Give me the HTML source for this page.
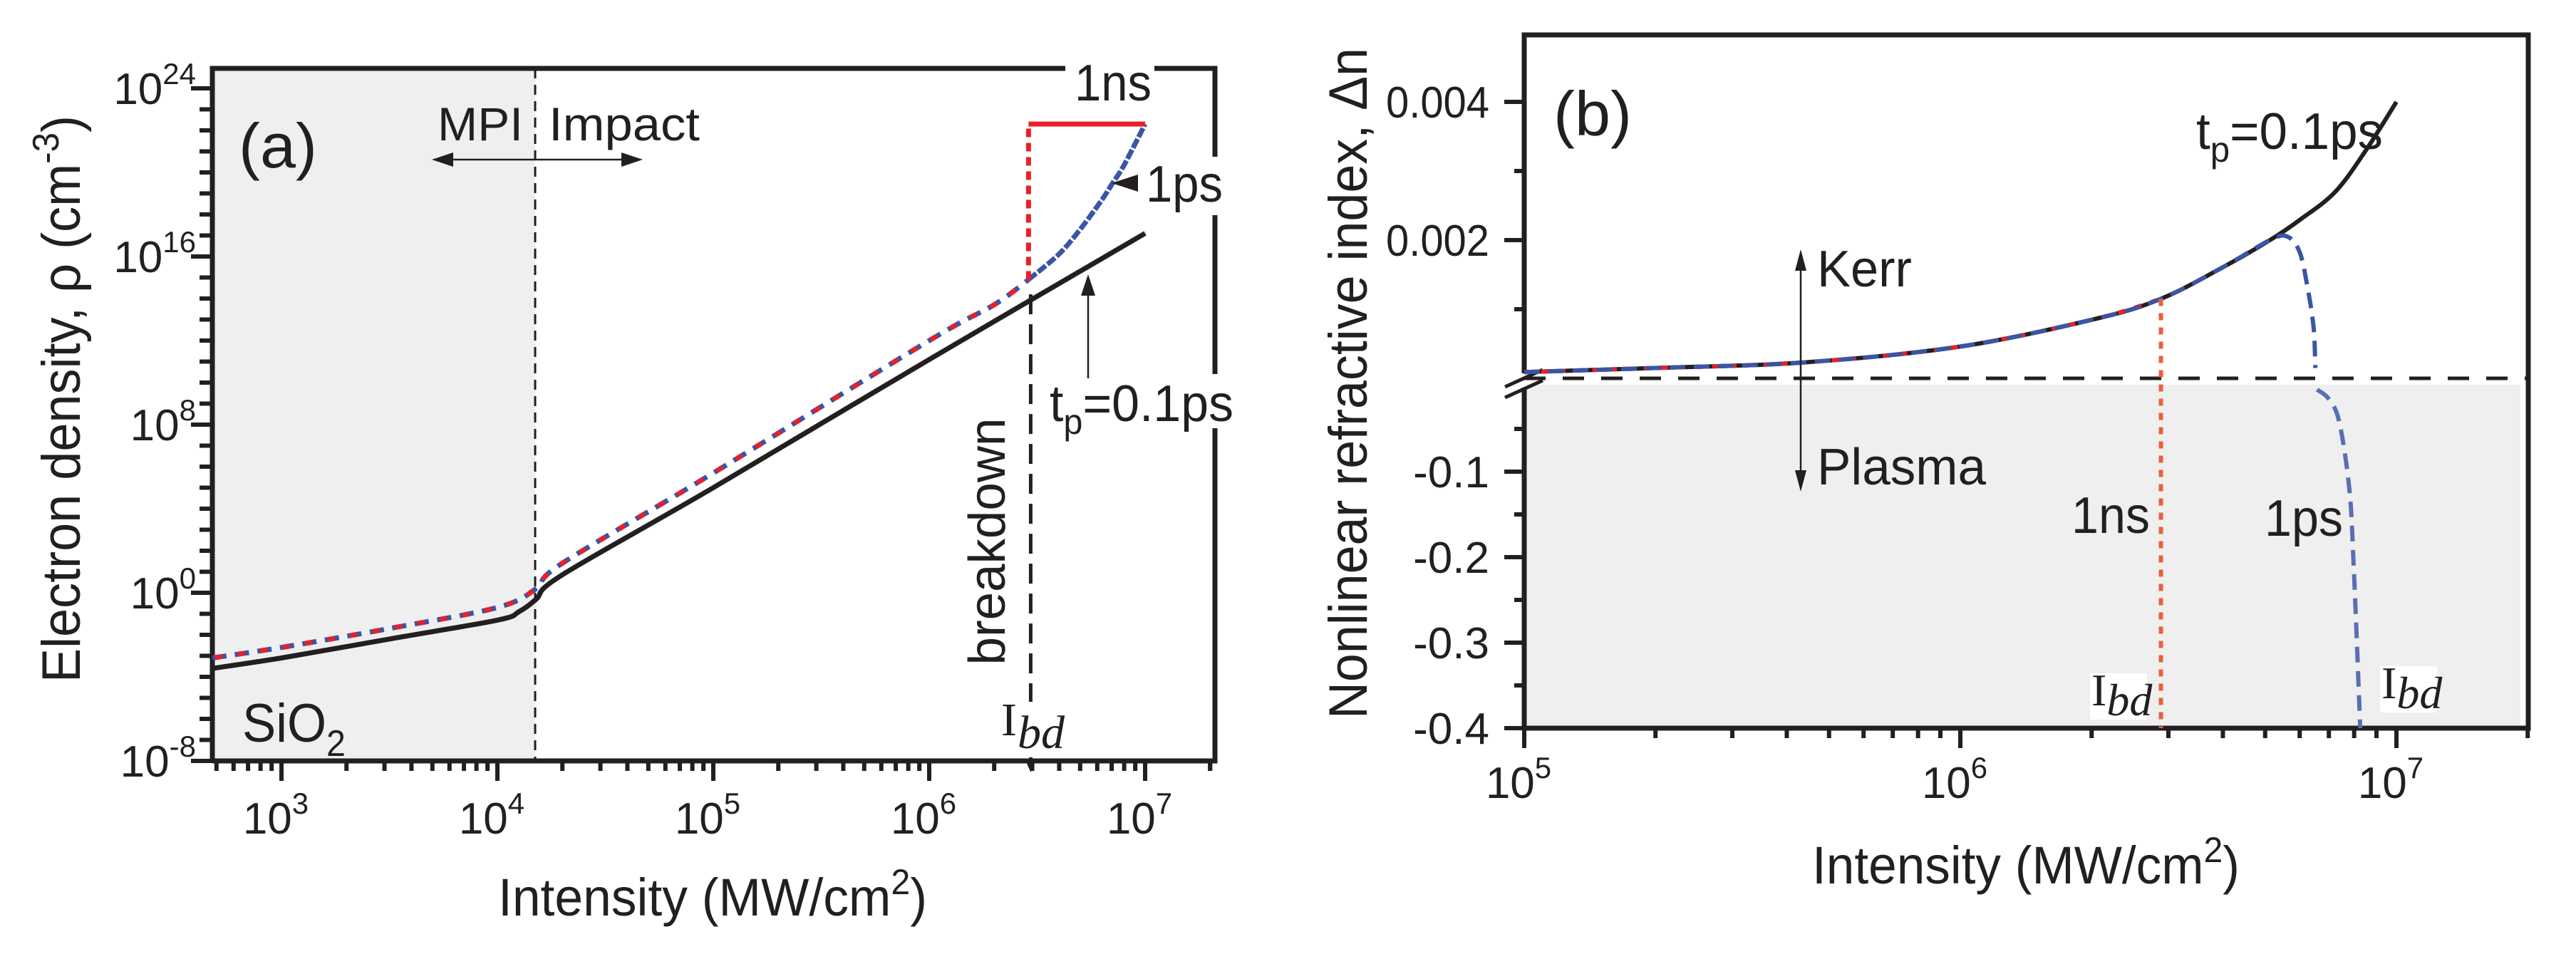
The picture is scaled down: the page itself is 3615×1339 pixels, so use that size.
<!DOCTYPE html>
<html><head><meta charset="utf-8"><style>
html,body{margin:0;padding:0;background:#fff;}
svg{display:block;}
text{font-family:"Liberation Sans Narrow","Liberation Sans",sans-serif;fill:#231f20;}
.serif{font-family:"Liberation Serif",serif;}
</style></head><body>
<svg id="fig" width="3615" height="1339" viewBox="0 0 3615 1339" xmlns="http://www.w3.org/2000/svg">
<g id="pa"></g>
<g id="pb"></g>
</svg>
<script>
// ---------- Panel (a) data ----------
const aBlackX = [2.68,3,3.5,4,4.1,4.18,4.3,5,6,7];
const aBlackY = [-3.6,-3.1,-2.2,-1.3,-0.9,-0.3,0.85,5.0,11.1,17.1];
const aDashX = [2.68,3,3.5,4,4.18,4.3,5,6,6.3,6.46];
const aDashY = [-3.1,-2.6,-1.7,-0.7,0.2,1.4,5.7,12.0,13.7,14.9];
const aRedTopX = [6.46,7];
const aRedTopY = [22.3,22.3];
const aBlueX = [6.46,6.6,6.7,6.8,6.85,6.9,7.0];
const aBlueY = [14.9,16.1,17.3,18.7,19.5,20.3,22.3];
const aYTicks = [24,16,8,0,-8];
const aXTicks = [3,4,5,6,7];
const aIbd = 6.47;
const aMPI = 4.175;
// ---------- Panel (b) data ----------
const bBlackX = [5,5.3,5.64,6,6.31,6.46,6.6,6.71,6.78,6.86,6.93,7];
const bBlackY = [0.00009,0.00015,0.00023,0.00046,0.00086,0.00115,0.0016,0.0020,0.0023,0.0027,0.0033,0.0040];
const bRedX = [5,5.3,5.64,6,6.31,6.46];
const bRedY = [0.00009,0.00015,0.00023,0.00046,0.00086,0.00115];
const bBlueUpX = [5,5.3,5.64,6,6.31,6.46,6.6,6.71,6.75,6.778,6.796,6.81,6.814];
const bBlueUpY = [0.00009,0.00015,0.00023,0.00046,0.00086,0.00115,0.0016,0.0020,0.00205,0.00183,0.00132,0.00074,0.00015];
const bBlueLowX = [6.818,6.845,6.869,6.892,6.902,6.917];
const bBlueLowY = [-0.004,-0.015,-0.042,-0.12,-0.21,-0.4];
const bIbdRed = 6.46;
const bUpTicks = [0.004,0.002];
const bUpMinor = [0.003,0.001];
const bLowTicks = [-0.1,-0.2,-0.3,-0.4];
const bLowMinor = [-0.05,-0.15,-0.25,-0.35];
const bXTicks = [5,6,7];

const NS="http://www.w3.org/2000/svg";
function mk(tag,attrs,parent){const e=document.createElementNS(NS,tag);for(const k in attrs)e.setAttribute(k,attrs[k]);parent.appendChild(e);return e;}
function txt(parent,x,y,size,content,extra){const t=mk('text',Object.assign({x:x,y:y,'font-size':size},extra||{}),parent);t.innerHTML=content;return t;}
function smooth(xs,ys,fx,fy){const p=xs.map((x,i)=>[fx(x),fy(ys[i])]);let d='M'+p[0][0].toFixed(1)+' '+p[0][1].toFixed(1);
 for(let i=0;i<p.length-1;i++){const p0=p[i-1]||p[i],p1=p[i],p2=p[i+1],p3=p[i+2]||p2;
  const c1=[p1[0]+(p2[0]-p0[0])/6,p1[1]+(p2[1]-p0[1])/6],c2=[p2[0]-(p3[0]-p1[0])/6,p2[1]-(p3[1]-p1[1])/6];
  d+=` C${c1[0].toFixed(1)} ${c1[1].toFixed(1)} ${c2[0].toFixed(1)} ${c2[1].toFixed(1)} ${p2[0].toFixed(1)} ${p2[1].toFixed(1)}`;}
 return d;}
const LA={lengthAdjust:'spacingAndGlyphs'};

// ===== Panel a =====
const A=document.getElementById('pa');
const aL=298,aR=1705,aT=96,aB=1068;
const ax=v=>395+(v-3)*303;
const ay=v=>124+(24-v)*29.5;
let r=mk('rect',{x:aL,y:aT,width:ax(aMPI)-aL,height:aB-aT,fill:'#efefef'},A);


let f=mk('path',{d:`M${aL} ${aB} L${aL} ${aT} L${aR} ${aT} L${aR} ${aB} L${aL} ${aB}`,stroke:'#231f20','stroke-width':7,fill:'none'},A);


for(let d=-8;d<=24;d++){const l=(d%8===0)?30:18;
 const t=mk('line',{x1:aL-l,x2:aL,y1:ay(d),y2:ay(d),stroke:'#231f20','stroke-width':6},A);
 
 }
aYTicks.forEach(v=>{const t=txt(A,275,ay(v)+22,62,`10<tspan dy="-28" font-size="42">${v}</tspan>`,{'text-anchor':'end'});
 
 });
for(let d=2;d<=7;d++){for(let m=1;m<=9;m++){const v=d+Math.log10(m);if(v<2.68||v>7.32)continue;const l=(m===1)?28:14;
 const t=mk('line',{x1:ax(v),x2:ax(v),y1:aB,y2:aB+l,stroke:'#231f20','stroke-width':6},A);
 
 }}
let t2=mk('line',{x1:ax(7.301),x2:ax(7.301),y1:aB,y2:aB+14,stroke:'#231f20','stroke-width':6},A);


aXTicks.forEach(v=>{const t=txt(A,ax(v)-8,1170,62,`10<tspan dy="-28" font-size="42">${v}</tspan>`,{'text-anchor':'middle'});
 
 });
let mv=mk('line',{x1:ax(aMPI),x2:ax(aMPI),y1:aT,y2:aB,stroke:'#231f20','stroke-width':3,'stroke-dasharray':'14 9'},A);


let c=mk('path',{d:smooth(aBlackX,aBlackY,ax,ay),stroke:'#231f20','stroke-width':7,fill:'none'},A);


c=mk('path',{d:smooth(aDashX,aDashY,ax,ay),stroke:'#3a55a4','stroke-width':7,fill:'none','stroke-dasharray':'20 12'},A);


c=mk('path',{d:smooth(aDashX,aDashY,ax,ay),stroke:'#e8202a','stroke-width':7,fill:'none','stroke-dasharray':'10 22','stroke-dashoffset':'-4'},A);


c=mk('path',{d:smooth(aBlueX,aBlueY,ax,ay),stroke:'#3a55a4','stroke-width':7,fill:'none','stroke-dasharray':'14 3'},A);


c=mk('path',{d:`M${ax(aDashX[aDashX.length-1])} ${ay(aDashY[aDashY.length-1])} L${ax(aRedTopX[0])} ${ay(aRedTopY[0])}`,stroke:'#e8202a','stroke-width':7,fill:'none','stroke-dasharray':'12 8'},A);


c=mk('path',{d:smooth(aRedTopX,aRedTopY,ax,ay),stroke:'#e8202a','stroke-width':7,fill:'none'},A);


c=mk('line',{x1:ax(aIbd),x2:ax(aIbd),y1:ay(14.2),y2:aB,stroke:'#231f20','stroke-width':5,'stroke-dasharray':'28 14'},A);


c=mk('path',{d:`M${ax(aIbd)-7} ${aB} L${ax(aIbd)+7} ${aB} L${ax(aIbd)} ${aB+16} Z`,fill:'#231f20'},A);


c=mk('rect',{x:1400,y:985,width:90,height:78,fill:'#fff'},A);


c=mk('rect',{x:1495,y:80,width:125,height:30,fill:'#fff'},A);


c=mk('rect',{x:1690,y:220,width:30,height:82,fill:'#fff'},A);


c=mk('rect',{x:1690,y:525,width:30,height:76,fill:'#fff'},A);


let tt=txt(A,335,235,88,'(a)',Object.assign({textLength:110},LA));


tt=txt(A,614,197,66,'MPI',Object.assign({textLength:120},LA));


tt=txt(A,770,197,66,'Impact',Object.assign({textLength:212},LA));


c=mk('line',{x1:630,x2:880,y1:224,y2:224,stroke:'#231f20','stroke-width':2.5},A);


c=mk('path',{d:'M606 224 L636 214 L636 234 Z M902 224 L872 214 L872 234 Z',fill:'#231f20'},A);


tt=txt(A,340,1041,76,'SiO<tspan dy="20" font-size="52">2</tspan>',Object.assign({textLength:145},LA));


tt=txt(A,1508,141,72,'1ns',Object.assign({textLength:108},LA));


tt=txt(A,1608,283,72,'1ps',Object.assign({textLength:108},LA));


c=mk('path',{d:'M1560 257 L1597 245 L1597 269 Z',fill:'#231f20'},A);


tt=txt(A,1473,591,72,'t<tspan dy="18" font-size="50">p</tspan><tspan dy="-18">=0.1ps</tspan>',Object.assign({textLength:258},LA));


c=mk('line',{x1:1527,x2:1527,y1:531,y2:410,stroke:'#231f20','stroke-width':2.5},A);


c=mk('path',{d:'M1527 385 L1517 415 L1537 415 Z',fill:'#231f20'},A);


tt=txt(A,0,0,72,'breakdown',Object.assign({transform:'translate(1410,760) rotate(-90)','text-anchor':'middle',textLength:347},LA));


tt=txt(A,1405,1032,66,'I',{class:'serif'});


tt=txt(A,1428,1050,66,'bd',{class:'serif','font-style':'italic'});


tt=txt(A,1000,1285,74,'Intensity (MW/cm<tspan dy="-30" font-size="50">2</tspan><tspan dy="30">)</tspan>',Object.assign({'text-anchor':'middle',textLength:602},LA));


tt=txt(A,0,0,76,'Electron density, ρ (cm<tspan dy="-30" font-size="52">-3</tspan><tspan dy="30">)</tspan>',Object.assign({transform:'translate(112,560) rotate(-90)','text-anchor':'middle',textLength:796},LA));



// ===== Panel b =====
const B=document.getElementById('pb');
const bL=2139,bR=3548,bT=49,bB=1022,bBrk=531;
const bx=v=>2139+(v-5)*612;
const byU=v=>531-v*97000;
const byL=v=>542-v*1200;
r=mk('rect',{x:bL,y:540,width:3537-bL,height:1018-540,fill:'#efefef'},B);


f=mk('path',{d:`M${bL} ${bB} L${bL} ${bT} L${bR} ${bT} L${bR} ${bB} Z`,stroke:'#231f20','stroke-width':7,fill:'none'},B);


bUpTicks.forEach(v=>{const t=mk('line',{x1:bL-28,x2:bL,y1:byU(v),y2:byU(v),stroke:'#231f20','stroke-width':6},B);
 
 
 const l=txt(B,2090,byU(v)+22,62,v.toFixed(3),{'text-anchor':'end',textLength:145,lengthAdjust:'spacingAndGlyphs'});
 
 });
bUpMinor.forEach(v=>{const t=mk('line',{x1:bL-14,x2:bL,y1:byU(v),y2:byU(v),stroke:'#231f20','stroke-width':6},B);
 
 });
bLowTicks.forEach(v=>{const t=mk('line',{x1:bL-28,x2:bL,y1:byL(v),y2:byL(v),stroke:'#231f20','stroke-width':6},B);
 
 
 const l=txt(B,2090,byL(v)+22,62,v.toFixed(1),{'text-anchor':'end'});
 
 });
bLowMinor.forEach(v=>{const t=mk('line',{x1:bL-14,x2:bL,y1:byL(v),y2:byL(v),stroke:'#231f20','stroke-width':6},B);
 
 });
for(let d=5;d<=7;d++){for(let m=1;m<=9;m++){const v=d+Math.log10(m);if(v>7.31)continue;const l=(m===1)?28:14;
 const t=mk('line',{x1:bx(v),x2:bx(v),y1:bB,y2:bB+l,stroke:'#231f20','stroke-width':6},B);
 
 }}
bXTicks.forEach(v=>{const t=txt(B,bx(v)-8,1120,62,`10<tspan dy="-28" font-size="42">${v}</tspan>`,{'text-anchor':'middle'});
 
 });
c=mk('rect',{x:bL-6,y:524,width:14,height:20,fill:'#fff'},B);


c=mk('path',{d:'M2112 543 L2165 519 M2112 558 L2165 534',stroke:'#231f20','stroke-width':5,fill:'none'},B);


c=mk('line',{x1:bL,x2:bR,y1:bBrk,y2:bBrk,stroke:'#231f20','stroke-width':5,'stroke-dasharray':'30 24'},B);


c=mk('path',{d:smooth(bBlackX,bBlackY,bx,byU),stroke:'#231f20','stroke-width':6,fill:'none'},B);


c=mk('path',{d:smooth(bRedX,bRedY,bx,byU),stroke:'#e8202a','stroke-width':6,fill:'none','stroke-dasharray':'10 14'},B);


c=mk('path',{d:smooth(bBlueUpX,bBlueUpY,bx,byU),stroke:'#3a55a4','stroke-width':6,fill:'none','stroke-dasharray':'22 12'},B);


c=mk('path',{d:smooth(bBlueLowX,bBlueLowY,bx,byL),stroke:'#5a6eb4','stroke-width':6,fill:'none','stroke-dasharray':'22 12'},B);


c=mk('line',{x1:bx(bIbdRed),x2:bx(bIbdRed),y1:byU(bRedY[bRedY.length-1]),y2:bB,stroke:'#e8603c','stroke-width':6,'stroke-dasharray':'10 10'},B);


tt=txt(B,2180,190,88,'(b)',Object.assign({textLength:110},LA));


tt=txt(B,3082,209,72,'t<tspan dy="18" font-size="50">p</tspan><tspan dy="-18">=0.1ps</tspan>',Object.assign({textLength:262},LA));


c=mk('line',{x1:2527,x2:2527,y1:375,y2:665,stroke:'#231f20','stroke-width':2.5},B);


c=mk('path',{d:'M2527 350 L2519 380 L2535 380 Z M2527 690 L2519 660 L2535 660 Z',fill:'#231f20'},B);


tt=txt(B,2550,402,72,'Kerr',Object.assign({textLength:133},LA));


tt=txt(B,2550,680,72,'Plasma',Object.assign({textLength:237},LA));


tt=txt(B,2907,748,72,'1ns',Object.assign({textLength:110},LA));


tt=txt(B,3178,752,72,'1ps',Object.assign({textLength:110},LA));


c=mk('rect',{x:2933,y:945,width:80,height:65,fill:'#fff'},B);


c=mk('rect',{x:3340,y:935,width:80,height:65,fill:'#fff'},B);


tt=txt(B,2935,990,64,'I<tspan font-style="italic" dy="14">bd</tspan>',{class:'serif'});


tt=txt(B,3342,980,64,'I<tspan font-style="italic" dy="14">bd</tspan>',{class:'serif'});


tt=txt(B,2843,1240,74,'Intensity (MW/cm<tspan dy="-30" font-size="50">2</tspan><tspan dy="30">)</tspan>',Object.assign({'text-anchor':'middle',textLength:600},LA));


tt=txt(B,0,0,76,'Nonlinear refractive index, Δn',Object.assign({transform:'translate(1918,538) rotate(-90)','text-anchor':'middle',textLength:942},LA));


</script>
</body></html>
